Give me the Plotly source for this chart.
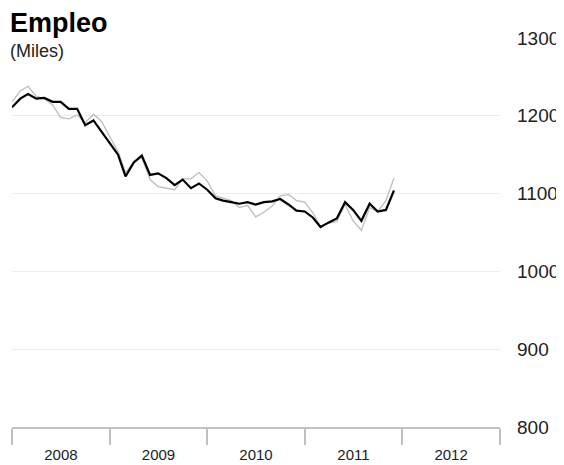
import plotly.graph_objects as go
import pandas as pd

months = pd.date_range("2008-01-01", periods=48, freq="MS")

empleo_tendencia = [1211, 1222, 1228, 1222, 1223, 1218, 1218, 1209, 1209, 1188, 1194, 1179,
                    1165, 1150, 1122, 1140, 1149, 1124, 1126, 1120, 1111, 1118, 1107, 1113,
                    1105, 1094, 1091, 1089, 1087, 1089, 1086, 1089, 1090, 1093, 1086, 1078,
                    1077, 1069, 1057, 1063, 1068, 1089, 1079, 1065, 1087, 1077, 1079, 1104]

empleo_original = [1218, 1232, 1238, 1225, 1222, 1214, 1198, 1196, 1201, 1191, 1202, 1193,
                   1173, 1154, 1127, 1141, 1146, 1118, 1109, 1107, 1105, 1119, 1119, 1127,
                   1116, 1097, 1094, 1091, 1082, 1085, 1070, 1076, 1084, 1097, 1099, 1091,
                   1089, 1075, 1058, 1062, 1064, 1086, 1065, 1053, 1082, 1077, 1091, 1120]

y_ticks = [800, 900, 1000, 1100, 1200, 1300]

FONT = "Arial, Liberation Sans, sans-serif"

fig = go.Figure()
fig.add_trace(go.Scatter(x=months, y=empleo_original, mode="lines",
                         line=dict(color="#bdbdbd", width=1.3), hoverinfo="skip"))
fig.add_trace(go.Scatter(x=months, y=empleo_tendencia, mode="lines",
                         line=dict(color="#000000", width=2.2), hoverinfo="skip"))

# page body has an 8px default margin, so the figure is 8px smaller and offset
fig.update_layout(
    width=556, height=457,
    margin=dict(l=4, r=64, t=30, b=38, autoexpand=False),
    paper_bgcolor="white", plot_bgcolor="white",
    showlegend=False,
    font=dict(family=FONT, color="#222"),
    xaxis=dict(
        type="date",
        range=["2008-01-01", "2013-01-01"],
        dtick="M12", tick0="2008-01-01",
        tickformat="%Y", ticklabelmode="period",
        ticks="outside", ticklen=16, tickwidth=2, tickcolor="#c0c0c0",
        showline=True, linecolor="#c0c0c0", linewidth=2,
        showgrid=False, zeroline=False, automargin=False,
        tickfont=dict(size=15, color="#222"),
        ticklabelstandoff=-3,
    ),
    yaxis=dict(
        side="right",
        range=[800, 1300],
        tickvals=y_ticks,
        ticks="", showline=False,
        showgrid=True, gridcolor="#ececec", gridwidth=1,
        zeroline=False, automargin=False,
        tickfont=dict(size=19, color="#222"),
        ticklabelstandoff=16,
    ),
    annotations=[
        dict(text="<b>Empleo</b>", xref="paper", yref="paper", x=-0.008, y=1.039,
             xanchor="left", yanchor="middle", showarrow=False,
             font=dict(size=27, color="#000", family=FONT)),
        dict(text="(Miles)", xref="paper", yref="paper", x=-0.008, y=0.967,
             xanchor="left", yanchor="middle", showarrow=False,
             font=dict(size=18, color="#222", family=FONT)),
    ],
)

fig.write_html("out.html")
